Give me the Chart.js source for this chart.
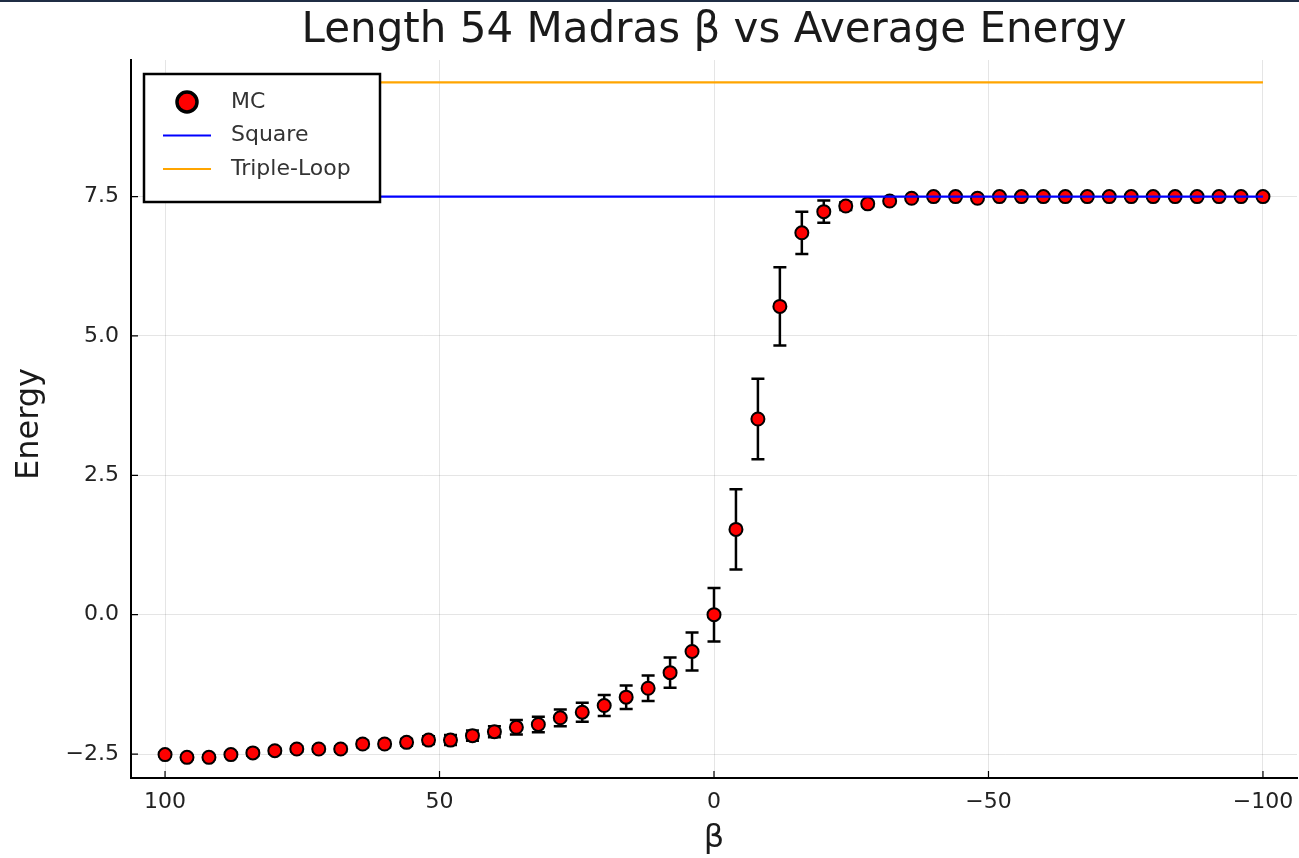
<!DOCTYPE html>
<html>
<head>
<meta charset="utf-8">
<title>Length 54 Madras β vs Average Energy</title>
<script src="https://cdn.jsdelivr.net/npm/chart.js@4"></script>
<style>
	html, body { margin: 0; padding: 0; background: #fff; overflow: hidden; }
	#wrap { position: relative; width: 1299px; height: 858px; }
	#energyChart { display: block; }
	#topLine { position: absolute; left: 0; top: 0; width: 1299px; height: 2px; background: #1f2d44; }
</style>
</head>
<body>
<div id="wrap">
	<canvas id="energyChart" width="1299" height="858"></canvas>
	<div id="topLine"></div>
</div>
<script>
// Text
const TITLE = "Length 54 Madras β vs Average Energy";
const X_LABEL = "β";
const Y_LABEL = "Energy";

// Beta values of the MC runs (plotted on a reversed axis)
const betaValues = [
	100, 96, 92, 88, 84, 80, 76, 72, 68, 64, 60, 56, 52, 48, 44, 40, 36,
	32, 28, 24, 20, 16, 12, 8, 4, 0, -4, -8, -12, -16, -20, -24, -28, -32,
	-36, -40, -44, -48, -52, -56, -60, -64, -68, -72, -76, -80, -84, -88,
	-92, -96, -100,
];

// Average energy from MC
const mcEnergy = [
	-2.51, -2.56, -2.56, -2.51, -2.48, -2.44, -2.41, -2.41, -2.41, -2.32, -2.32, -2.29, -2.25, -2.25, -2.17, -2.10, -2.02,
	-1.97, -1.85, -1.75, -1.63, -1.48, -1.32, -1.04, -0.66, 0.0, 1.53, 3.51, 5.53, 6.85, 7.23, 7.33, 7.37, 7.42,
	7.47, 7.5, 7.5, 7.47, 7.5, 7.5, 7.5, 7.5, 7.5, 7.5, 7.5, 7.5, 7.5, 7.5,
	7.5, 7.5, 7.5,
];

// Half height of the error bars
const mcError = [
	0.04, 0.04, 0.04, 0.04, 0.05, 0.05, 0.05, 0.05, 0.05, 0.06, 0.06, 0.06, 0.07, 0.09, 0.09, 0.10, 0.13,
	0.14, 0.15, 0.17, 0.19, 0.21, 0.23, 0.27, 0.34, 0.48, 0.72, 0.72, 0.70, 0.38, 0.20, 0.07, 0.05, 0.04,
	0.03, 0.02, 0.02, 0.02, 0.02, 0.02, 0.02, 0.02, 0.02, 0.02, 0.02, 0.02, 0.02, 0.02,
	0.02, 0.02, 0.02,
];

// Reference energies
const squareEnergy = 7.5;
const tripleLoopEnergy = 9.55;

// Ticks
const xTicks = [100, 50, 0, -50, -100];
const yTicks = [-2.5, 0, 2.5, 5, 7.5];

const FONT = "'DejaVu Sans', sans-serif";
Chart.defaults.font.family = FONT;

function minusSign(str) {
	return str.replace("-", "\u2212");
}

// Draw the error bars under the markers
const errorBarPlugin = {
	id: "errorBars",
	beforeDatasetsDraw: function (chart) {
		const ctx = chart.ctx;
		const xScale = chart.scales.x;
		const yScale = chart.scales.y;
		const capHalf = 6.5;

		ctx.save();
		ctx.strokeStyle = "#000";
		ctx.lineWidth = 2.5;
		for (let i = 0; i < betaValues.length; i++) {
			const px = xScale.getPixelForValue(betaValues[i]);
			const top = yScale.getPixelForValue(mcEnergy[i] + mcError[i]);
			const bot = yScale.getPixelForValue(mcEnergy[i] - mcError[i]);
			ctx.beginPath();
			ctx.moveTo(px, top);
			ctx.lineTo(px, bot);
			ctx.moveTo(px - capHalf, top);
			ctx.lineTo(px + capHalf, top);
			ctx.moveTo(px - capHalf, bot);
			ctx.lineTo(px + capHalf, bot);
			ctx.stroke();
		}
		ctx.restore();
	},
};

// Title, y label, inner tick marks and the legend box
const decorPlugin = {
	id: "decor",
	afterDraw: function (chart) {
		const ctx = chart.ctx;
		const area = chart.chartArea;
		const xScale = chart.scales.x;
		const yScale = chart.scales.y;

		ctx.save();

		// Title centred over the plot area
		ctx.fillStyle = "#1a1a1a";
		ctx.font = "42px " + FONT;
		ctx.textAlign = "center";
		ctx.textBaseline = "alphabetic";
		ctx.fillText(TITLE, (area.left + area.right) / 2, 42);

		// Y axis label
		ctx.save();
		ctx.translate(38, (area.top + area.bottom) / 2 + 5);
		ctx.rotate(-Math.PI / 2);
		ctx.font = "32px " + FONT;
		ctx.fillText(Y_LABEL, 0, 0);
		ctx.restore();

		// Tick marks pointing into the plot
		ctx.strokeStyle = "#000";
		ctx.lineWidth = 1.2;
		ctx.beginPath();
		xTicks.forEach(function (v) {
			const px = xScale.getPixelForValue(v);
			ctx.moveTo(px, area.bottom);
			ctx.lineTo(px, area.bottom - 7);
		});
		yTicks.forEach(function (v) {
			const py = yScale.getPixelForValue(v);
			ctx.moveTo(area.left, py);
			ctx.lineTo(area.left + 7, py);
		});
		ctx.stroke();

		// Legend
		const boxX = area.left + 13;
		const boxY = area.top + 14;
		const boxW = 236;
		const boxH = 128;
		ctx.fillStyle = "#fff";
		ctx.fillRect(boxX, boxY, boxW, boxH);
		ctx.strokeStyle = "#000";
		ctx.lineWidth = 2.5;
		ctx.strokeRect(boxX, boxY, boxW, boxH);

		ctx.font = "22px " + FONT;
		ctx.textAlign = "left";
		ctx.textBaseline = "middle";
		chart.data.datasets.forEach(function (ds, i) {
			const rowY = boxY + 28 + i * 33.5;
			if (ds.type === "scatter") {
				ctx.beginPath();
				ctx.arc(boxX + 43, rowY, 10, 0, Math.PI * 2);
				ctx.fillStyle = ds.backgroundColor;
				ctx.fill();
				ctx.lineWidth = 3.5;
				ctx.strokeStyle = ds.borderColor;
				ctx.stroke();
			} else {
				ctx.beginPath();
				ctx.moveTo(boxX + 19, rowY);
				ctx.lineTo(boxX + 67, rowY);
				ctx.lineWidth = ds.borderWidth;
				ctx.strokeStyle = ds.borderColor;
				ctx.stroke();
			}
			ctx.fillStyle = "#333";
			ctx.fillText(ds.label, boxX + 87, rowY);
		});

		ctx.restore();
	},
};

const lastBeta = betaValues[betaValues.length - 1];

const energyChart = new Chart(document.getElementById("energyChart").getContext("2d"), {
	type: "scatter",
	data: {
		datasets: [
			{
				label: "MC",
				type: "scatter",
				data: betaValues.map(function (b, i) {
					return { x: b, y: mcEnergy[i] };
				}),
				backgroundColor: "#ff0000",
				borderColor: "#000000",
				borderWidth: 2,
				pointRadius: 6.5,
				order: 3,
			},
			{
				label: "Square",
				type: "line",
				data: [
					{ x: betaValues[0], y: squareEnergy },
					{ x: lastBeta, y: squareEnergy },
				],
				borderColor: "#0000ff",
				borderWidth: 2.2,
				pointRadius: 0,
				fill: false,
				order: 1,
			},
			{
				label: "Triple-Loop",
				type: "line",
				data: [
					{ x: betaValues[0], y: tripleLoopEnergy },
					{ x: lastBeta, y: tripleLoopEnergy },
				],
				borderColor: "#ffa500",
				borderWidth: 2.2,
				pointRadius: 0,
				fill: false,
				order: 2,
			},
		],
	},
	options: {
		responsive: false,
		animation: false,
		devicePixelRatio: 1,
		layout: {
			autoPadding: false, // no extra room for the markers at the edges
			padding: { top: 60, right: 2, left: 0, bottom: 0 },
		},
		plugins: {
			legend: { display: false },
			title: { display: false },
			tooltip: { enabled: false },
		},
		scales: {
			x: {
				type: "linear",
				reverse: true,
				min: -106.2,
				max: 106.2,
				afterBuildTicks: function (scale) {
					scale.ticks = xTicks.map(function (v) {
						return { value: v };
					});
				},
				afterFit: function (scale) {
					scale.height = 80;
				},
				ticks: {
					font: { size: 22, lineHeight: 2.2 },
					color: "#222",
					padding: 0,
					maxRotation: 0,
					callback: function (v) {
						return minusSign(String(v));
					},
				},
				grid: {
					color: "rgba(0,0,0,0.1)",
					lineWidth: 1,
					drawTicks: false,
				},
				border: { color: "#000", width: 2 },
				title: {
					display: true,
					text: X_LABEL,
					font: { size: 32 },
					color: "#1a1a1a",
					padding: { top: 0, bottom: 0 },
				},
			},
			y: {
				type: "linear",
				min: -2.93,
				max: 9.95,
				afterBuildTicks: function (scale) {
					scale.ticks = yTicks.map(function (v) {
						return { value: v };
					});
				},
				afterFit: function (scale) {
					scale.width = 131;
				},
				ticks: {
					font: { size: 22 },
					color: "#222",
					padding: 12,
					callback: function (v) {
						return minusSign(Number(v).toFixed(1));
					},
				},
				grid: {
					color: "rgba(0,0,0,0.1)",
					lineWidth: 1,
					drawTicks: false,
				},
				border: { color: "#000", width: 2 },
			},
		},
	},
	plugins: [errorBarPlugin, decorPlugin],
});
</script>
</body>
</html>
